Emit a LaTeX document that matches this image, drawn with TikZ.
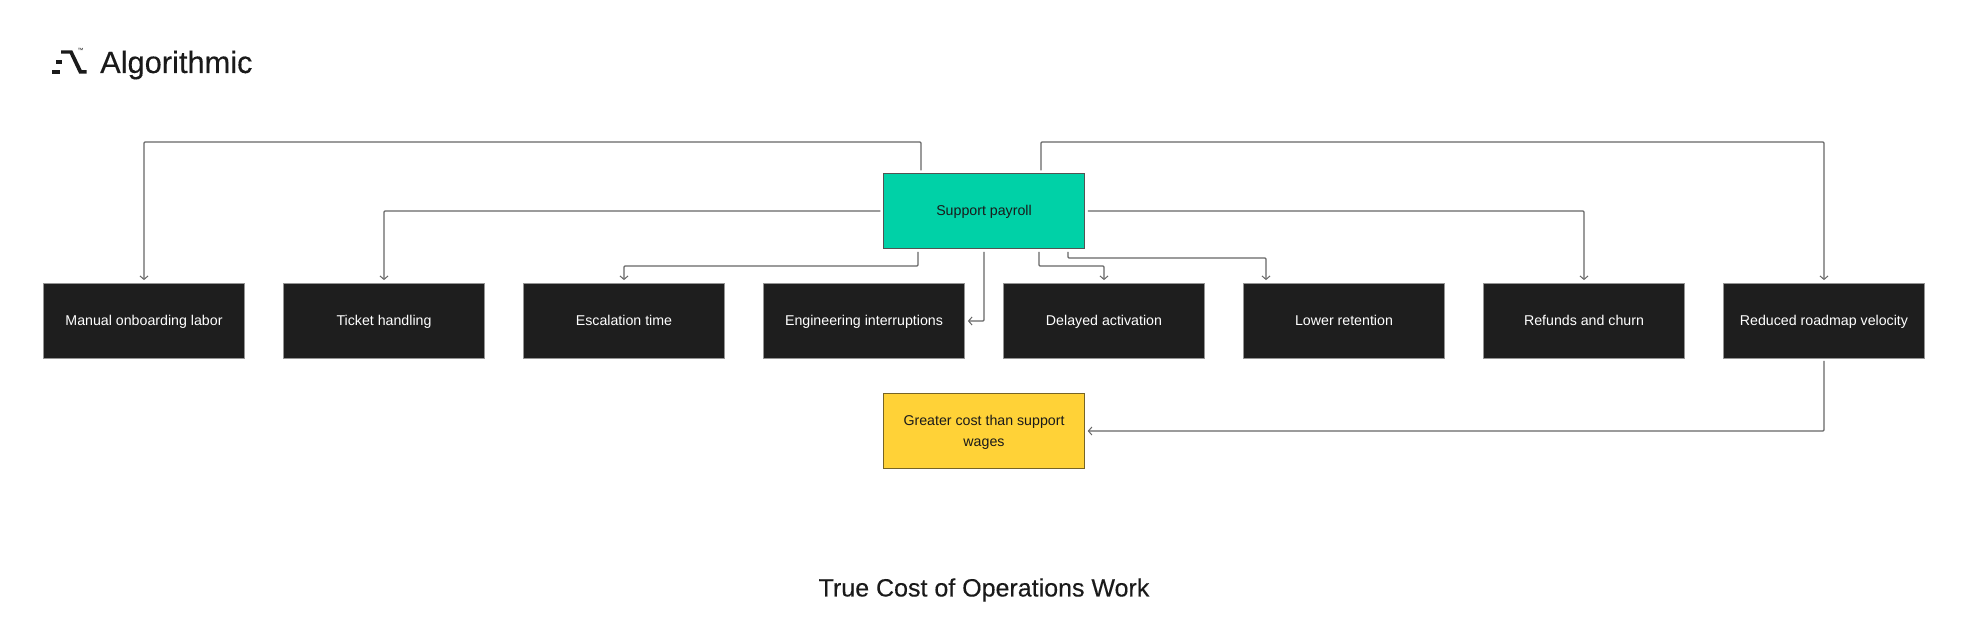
\documentclass[tikz,border=0pt]{standalone}
\usepackage{fontspec}
\setmainfont{Liberation Sans}
\newfontfamily\headfont[FakeBold=0.25]{Liberation Sans}
\usetikzlibrary{arrows.meta}
\definecolor{dark}{HTML}{1E1E1E}
\definecolor{teal}{HTML}{00D1A7}
\definecolor{gold}{HTML}{FFD237}
\definecolor{ink}{HTML}{1A1A1A}
\definecolor{wire}{HTML}{666666}
\tikzset{
  x=1pt,y=-1pt,
  darkbox/.style={draw=wire!70!white,line width=0.8pt,fill=dark,text=white,minimum width=201pt,minimum height=75pt,inner sep=0pt,font=\fontsize{14.2}{21}\selectfont,align=center,text height=12.2pt,text depth=2.6pt},
  greenbox/.style={draw=ink!75!white,line width=1pt,fill=teal,text=ink,minimum width=200.5pt,minimum height=74.5pt,inner sep=0pt,font=\fontsize{14.2}{21}\selectfont,align=center,text height=12.2pt,text depth=2.6pt},
  yellowbox/.style={draw=ink!60!gold,line width=1pt,fill=gold,text=ink,minimum width=200.5pt,minimum height=74.5pt,inner sep=0pt,font=\fontsize{14.2}{21}\selectfont,align=center},
  wirearrow/.style={draw=wire,line width=1.2pt,-{Straight Barb[length=3.5pt,width=8pt,line width=1pt]},rounded corners=1pt},
  logopart/.style={fill=ink,draw=none},
}
\begin{document}
\begin{tikzpicture}
\useasboundingbox (0,0) rectangle (1968,642);
\node[darkbox] (n1) at (144,321) {Manual onboarding labor};
\node[darkbox] (n2) at (384,321) {Ticket handling};
\node[darkbox] (n3) at (624,321) {Escalation time};
\node[darkbox] (n4) at (864,321) {Engineering interruptions};
\node[darkbox] (n5) at (1104,321) {Delayed activation};
\node[darkbox] (n6) at (1344,321) {Lower retention};
\node[darkbox] (n7) at (1584,321) {Refunds and churn};
\node[darkbox] (n8) at (1824,321) {Reduced roadmap velocity};
\node[greenbox] (pay) at (984,211) {Support payroll};
\node[yellowbox] (cost) at (984,431) {\rule{0pt}{12.6pt}Greater cost than support\\wages};
\node[font=\headfont\fontsize{25}{30}\selectfont,text=ink] (title) at (984,590) {True Cost of Operations Work};
\node[font=\headfont\fontsize{30.8}{36}\selectfont,text=ink,anchor=base west,inner sep=0pt] (brand) at (100,73) {Algorithmic};
\node[font=\fontsize{6}{7}\selectfont,text=ink,inner sep=0pt] (tm) at (80.5,50.5) {™};
% rails
\coordinate (topy) at (0,142);
\coordinate (escy) at (0,266);
\coordinate (lowy) at (0,258);
% connectors
\draw[wirearrow] ([xshift=-63pt,yshift=3pt]pay.north) |- (n1.north |- topy) -- ([yshift=3pt]n1.north);
\draw[wirearrow] ([xshift=57pt,yshift=3pt]pay.north) |- (n8.north |- topy) -- ([yshift=3pt]n8.north);
\draw[wirearrow] ([xshift=-3pt]pay.west) -| ([yshift=3pt]n2.north);
\draw[wirearrow] ([xshift=3pt]pay.east) -| ([yshift=3pt]n7.north);
\draw[wirearrow] ([xshift=-66pt,yshift=-3pt]pay.south) |- (n3.north |- escy) -- ([yshift=3pt]n3.north);
\draw[wirearrow] ([yshift=-3pt]pay.south) |- ([xshift=3pt]n4.east);
\draw[wirearrow] ([xshift=55pt,yshift=-3pt]pay.south) |- (n5.north |- escy) -- ([yshift=3pt]n5.north);
\draw[wirearrow] ([xshift=84pt,yshift=-3pt]pay.south) |- ([xshift=-78pt]n6.north |- lowy) -- ([xshift=-78pt,yshift=3pt]n6.north);
\draw[wirearrow] ([yshift=-2pt]n8.south) |- ([xshift=3pt]cost.east);
% logo mark
\fill[logopart] (61,50.3) -- (72.2,50.3) -- (81.8,70.2) -- (86.7,70.2) -- (86.7,73.7) -- (79.2,73.7) -- (69.8,53.7) -- (61,53.7) -- cycle;
\fill[logopart] (56,60.3) rectangle (62.3,63.7);
\fill[logopart] (51.8,70.2) rectangle (60,73.7);
\end{tikzpicture}
\end{document}
